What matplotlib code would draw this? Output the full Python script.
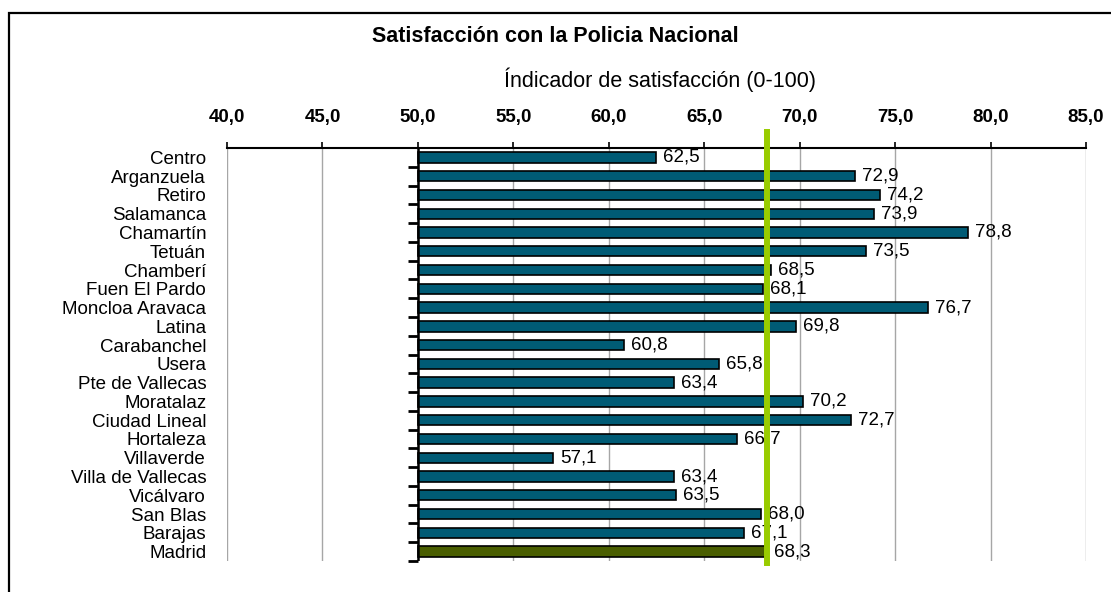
import matplotlib
matplotlib.use("Agg")
import matplotlib.pyplot as plt
from matplotlib.patches import Rectangle

plt.rcParams['font.family'] = ['Liberation Sans', 'DejaVu Sans']

districts = ["Centro", "Arganzuela", "Retiro", "Salamanca", "Chamartín", "Tetuán",
             "Chamberí", "Fuen El Pardo", "Moncloa Aravaca", "Latina", "Carabanchel",
             "Usera", "Pte de Vallecas", "Moratalaz", "Ciudad Lineal", "Hortaleza",
             "Villaverde", "Villa de Vallecas", "Vicálvaro", "San Blas", "Barajas", "Madrid"]
values = [62.5, 72.9, 74.2, 73.9, 78.8, 73.5, 68.5, 68.1, 76.7, 69.8, 60.8,
          65.8, 63.4, 70.2, 72.7, 66.7, 57.1, 63.4, 63.5, 68.0, 67.1, 68.3]
madrid_avg = 68.3
base = 50.0
xticks = [40, 45, 50, 55, 60, 65, 70, 75, 80, 85]

title = "Satisfacción con la Policia Nacional"
subtitle = "Índicador de satisfacción (0-100)"

fig = plt.figure(figsize=(11.11, 5.92), dpi=100)
ax = fig.add_axes([227/1111, 1-561/592, (1086-227)/1111, (561-148)/592])

n = len(districts)
ypos = list(range(n))
colors = ['#005B75'] * (n - 1) + ['#4A5E00']
widths = [v - base for v in values]
ax.barh(ypos, widths, left=base, height=0.55, color=colors, edgecolor='black',
        linewidth=1.2, zorder=3)

for y, v in zip(ypos, values):
    ax.annotate(f"{v:.1f}".replace('.', ','), xy=(v, y), xytext=(5, 0),
                textcoords='offset points', va='center', ha='left',
                fontsize=13.5, zorder=4)

ax.set_xlim(40, 85)
ax.set_ylim(n - 0.5, -0.5)

ax.xaxis.set_ticks_position('top')
ax.xaxis.set_label_position('top')
ax.set_xticks(xticks)
ax.set_xticklabels([f"{t:.1f}".replace('.', ',') for t in xticks],
                   fontsize=13.5, fontweight='bold')
ax.tick_params(axis='x', direction='out', length=4, width=1.2, pad=12)
ax.xaxis.grid(True, color='#A6A6A6', linewidth=1, zorder=0)
ax.set_axisbelow(True)

ax.set_yticks(ypos)
ax.set_yticklabels(districts, fontsize=13.5)
ax.tick_params(axis='y', length=0, pad=15)

for s in ['left', 'right', 'bottom']:
    ax.spines[s].set_visible(False)
ax.spines['top'].set_linewidth(1.5)

# vertical category axis at the 50 baseline
ax.axvline(base, color='black', linewidth=1.8, zorder=5)
bounds = [i + 0.5 for i in range(n)]
ax.plot([base] * len(bounds), bounds, linestyle='none', marker=0, markersize=7,
        markeredgewidth=2, color='black', clip_on=False, zorder=5)

# Madrid average reference line
ax.axvline(madrid_avg, ymin=-0.005, ymax=1.039, color='#99CC00', linewidth=4.3,
           clip_on=False, zorder=6)

fig.text(0.5, 1 - 41.7/592, title, ha='center', va='baseline', fontsize=15.5,
         fontweight='bold')
fig.text(660/1111, 1 - 87/592, subtitle, ha='center', va='baseline', fontsize=15.5)

frame = Rectangle((8.5/1111, -0.1), 1.2, (1 - 12.7/592) + 0.1, transform=fig.transFigure,
                  fill=False, edgecolor='black', linewidth=1.6, clip_on=False)
fig.patches.append(frame)

fig.savefig('out.png', dpi=100)
